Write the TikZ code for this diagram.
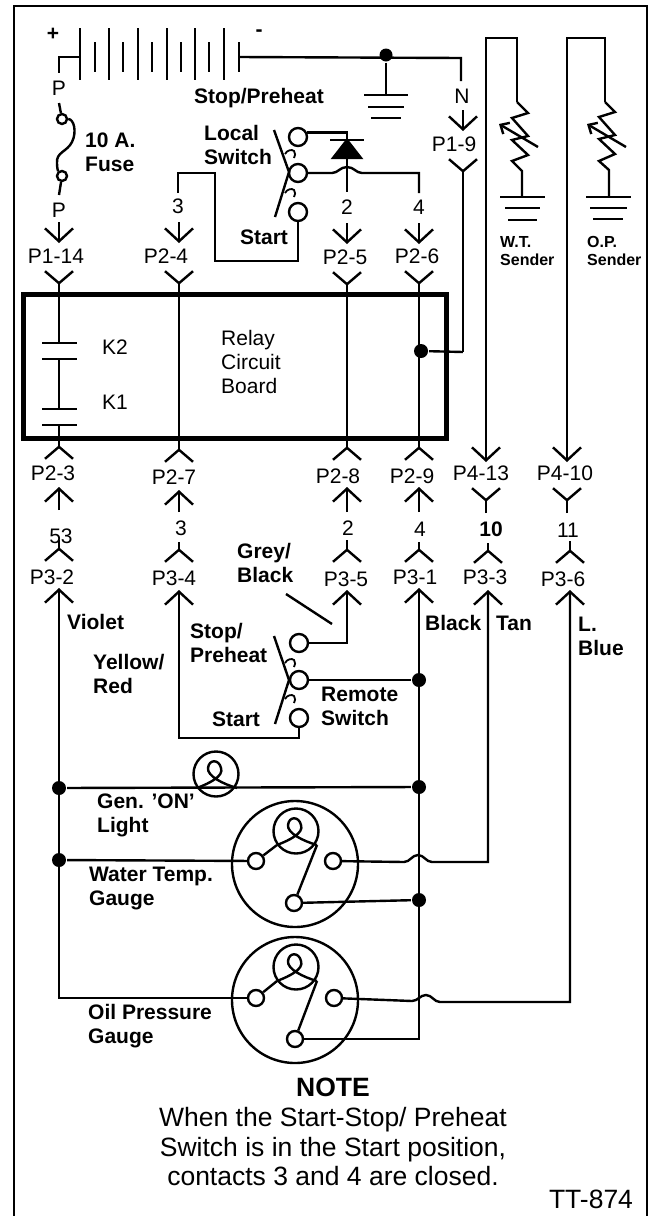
\documentclass[tikz,border=0pt]{standalone}
\usepackage{fontspec}
\setmainfont{Liberation Sans}
\usetikzlibrary{arrows.meta}
\tikzset{
    reg/.style={font=\fontsize{21}{24}\selectfont, inner sep=0pt},
    bld/.style={font=\bfseries\fontsize{21}{24}\selectfont, inner sep=0pt, align=left},
    sml/.style={font=\bfseries\fontsize{16}{18}\selectfont, inner sep=0pt, align=left},
    term/.style={circle, draw, fill=white, minimum size=18pt, inner sep=0pt},
    gterm/.style={circle, draw, fill=white, minimum size=16pt, inner sep=0pt},
    fterm/.style={circle, draw, fill=white, minimum size=10pt, inner sep=0pt},
    joint/.style={circle, fill, minimum size=14pt, inner sep=0pt},
    gauge/.style={circle, draw, minimum size=126pt, inner sep=0pt},
    lamp/.style={circle, draw, minimum size=45pt, inner sep=0pt},
    arrowpin/.style={-{Straight Barb[length=13pt,width=28pt]}},
    forkpin/.style={-{Straight Barb[reversed,length=12pt,width=28pt]}},
    sendarrow/.style={-{Straight Barb[length=7pt,width=13pt]}},
    swhook/.style={line width=1.8pt}
}
\begin{document}
\begin{tikzpicture}[x=1pt, y=-1pt, line width=2.4pt]
    \useasboundingbox (0,0) rectangle (649,1216);
    % frame
    \path [draw, line width=2.6pt] (14,1216) -- (14,6) -- (647,6) -- (647,1216);

    % battery
    \node [bld] (plus) at (53,34) {+};
    \node [bld] (minus) at (259,33) {-};
    \path [draw] (80,28) -- (80,80);
    \path [draw] (95,42) -- (95,72);
    \path [draw] (109,28) -- (109,80);
    \path [draw] (123,42) -- (123,72);
    \path [draw] (138,28) -- (138,80);
    \path [draw] (152,42) -- (152,72);
    \path [draw] (167,28) -- (167,80);
    \path [draw] (181,42) -- (181,72);
    \path [draw] (195,28) -- (195,80);
    \path [draw] (209,42) -- (209,72);
    \path [draw] (224,28) -- (224,80);
    \path [draw] (239,42) -- (239,72);
    \coordinate (batl) at (80,57);
    \coordinate (batr) at (239,57);

    % fuse side
    \coordinate (pa) at (59,73);
    \coordinate (pb) at (59,103);
    \coordinate (pc) at (59,195);
    \node [reg] (lpa) at (59,88) {P};
    \node [fterm] (fusea) at (62,119) {};
    \node [fterm] (fuseb) at (62,176) {};
    \node [reg] (lpb) at (59,210) {P};
    \node [bld, anchor=west] (lfuse) at (84,152) {10 A.\\Fuse};
    \path [draw] (batl) -| (pa);
    \path [draw] (pb) edge (fusea);
    \path [draw] (fuseb) edge (pc);
    \path [draw] (fusea) .. controls (74,119) and (77,132) .. (72,142) .. controls (67,152) and (56,152) .. (57,163) .. controls (57,168) and (58,171) .. (fuseb);

    % ground and N lead
    \node [joint, minimum size=13pt] (jbat) at (386,55) {};
    \coordinate (gnda) at (386,95);
    \coordinate (nc) at (461,58);
    \coordinate (na) at (461,81);
    \path [draw] (batr) -- (nc) -- (na);
    \path [draw] (jbat) edge (gnda);
    \path [draw] (364,95) -- (408,95);
    \path [draw] (368,107) -- (404,107);
    \path [draw] (371,118) -- (401,118);
    \node [bld] (lstop) at (259,98) {Stop/Preheat};
    \node [reg] (ln) at (462,96) {N};
    \node [reg] (lp19) at (454,144) {P1-9};
    \coordinate (n1) at (463,110);
    \coordinate (n2) at (463,131);
    \coordinate (n3) at (463,158);
    \coordinate (n4) at (463,352);
    \path [draw, arrowpin] (n1) -- (n2);
    \path [draw, forkpin] (n4) -- (n3);
    \node [joint] (jboard) at (421,351) {};
    \path [draw] (jboard) edge (n4);

    % local switch
    \node [bld, anchor=west] (llocal) at (203,145) {Local\\Switch};
    \node [bld] (lstart) at (264,237) {Start};
    \node [term] (sla) at (298,137) {};
    \node [term] (slb) at (298,173) {};
    \node [term] (slc) at (298,212) {};
    \path [draw] (274,130) -- (289,172) -- (275,217);
    \path [draw, swhook] (285,154) .. controls (287,150) and (292,149) .. (294,151) .. controls (296,153) and (295,156) .. (294,158);
    \path [draw, swhook] (285,193) .. controls (287,189) and (292,188) .. (294,190) .. controls (296,192) and (295,195) .. (294,197);
    \coordinate (dtop) at (347,140);
    \coordinate (dmid) at (347,158);
    \coordinate (d2) at (347,192);
    \path [draw] (sla.25) -| (dtop);
    \path [draw] (330,140) -- (364,140);
    \path [draw, fill] (dtop) -- (333,158) -- (361,158) -- cycle;
    \path [draw] (dmid) edge (d2);
    \coordinate (w4a) at (419,193);
    \path [draw] (slb) -- (332,173) .. controls (338,173) and (340,167) .. (347,167) .. controls (354,167) and (356,173) .. (362,173) -| (w4a);
    \coordinate (w3a) at (178,193);
    \coordinate (w3b) at (215,173);
    \coordinate (w3c) at (215,261);
    \path [draw] (w3a) |- (w3b) -- (w3c) -| (slc);

    % top pins
    \node [reg] (l3a) at (178,206) {3};
    \node [reg] (l2a) at (347,207) {2};
    \node [reg] (l4a) at (419,207) {4};
    \node [reg] (lp114) at (56,256) {P1-14};
    \node [reg] (lp24) at (166,256) {P2-4};
    \node [reg] (lp25) at (345,257) {P2-5};
    \node [reg] (lp26) at (417,256) {P2-6};
    \coordinate (a1) at (59,222);
    \coordinate (a2) at (59,243);
    \coordinate (b1) at (179,222);
    \coordinate (b2) at (179,243);
    \coordinate (c1) at (347,223);
    \coordinate (c2) at (347,244);
    \coordinate (d1) at (419,223);
    \coordinate (d2b) at (419,244);
    \path [draw, arrowpin] (a1) -- (a2);
    \path [draw, arrowpin] (b1) -- (b2);
    \path [draw, arrowpin] (c1) -- (c2);
    \path [draw, arrowpin] (d1) -- (d2b);

    % relay board
    \node [draw, line width=5pt, minimum width=423pt, minimum height=144pt, inner sep=0pt] (board) at (234.5,366) {};
    \node [reg, anchor=west] (lk2) at (101,347) {K2};
    \node [reg, anchor=west] (lk1) at (101,402) {K1};
    \node [reg, anchor=west, align=left] (lrelay) at (220,362) {Relay\\Circuit\\Board};
    \coordinate (k2a) at (59,343);
    \coordinate (k2b) at (59,359);
    \coordinate (k1a) at (59,409);
    \coordinate (k1b) at (59,425);
    \path [draw] (42,343) -- (77,343);
    \path [draw] (42,359) -- (77,359);
    \path [draw] (42,409) -- (77,409);
    \path [draw] (42,425) -- (77,425);
    \path [draw] (k2b) edge (k1a);
    \coordinate (a3) at (59,270);
    \coordinate (a4) at (59,460);
    \coordinate (b3) at (179,270);
    \coordinate (bm) at (179,366);
    \coordinate (b4) at (179,463);
    \coordinate (c3) at (347,271);
    \coordinate (cm) at (347,366);
    \coordinate (c4) at (347,461);
    \coordinate (d3) at (419,270);
    \coordinate (dm) at (419,366);
    \coordinate (d4) at (419,461);
    \path [draw, forkpin] (k2a) -- (a3);
    \path [draw, forkpin] (k1b) -- (a4);
    \path [draw, forkpin] (bm) -- (b3);
    \path [draw, forkpin] (bm) -- (b4);
    \path [draw, forkpin] (cm) -- (c3);
    \path [draw, forkpin] (cm) -- (c4);
    \path [draw, forkpin] (dm) -- (d3);
    \path [draw, forkpin] (dm) -- (d4);

    % middle pins
    \node [reg] (lp23) at (53,473) {P2-3};
    \node [reg] (lp27) at (174,477) {P2-7};
    \node [reg] (lp28) at (338,476) {P2-8};
    \node [reg] (lp29) at (412,476) {P2-9};
    \node [reg] (lp413) at (481,473) {P4-13};
    \node [reg] (lp410) at (565,473) {P4-10};
    \coordinate (a5) at (59,510);
    \coordinate (a6) at (59,487);
    \coordinate (b5) at (179,512);
    \coordinate (b6) at (179,490);
    \coordinate (c5) at (347,512);
    \coordinate (c6) at (347,487);
    \coordinate (d5) at (419,512);
    \coordinate (d6) at (419,487);
    \coordinate (e5) at (486,513);
    \coordinate (e6) at (486,487);
    \coordinate (f5) at (567,513);
    \coordinate (f6) at (567,487);
    \path [draw, arrowpin] (a5) -- (a6);
    \path [draw, arrowpin] (b5) -- (b6);
    \path [draw, arrowpin] (c5) -- (c6);
    \path [draw, arrowpin] (d5) -- (d6);
    \path [draw, forkpin] (e5) -- (e6);
    \path [draw, forkpin] (f5) -- (f6);
    \node [reg] (l53) at (61,536) {53};
    \node [reg] (l3b) at (181,528) {3};
    \node [reg] (l2b) at (348,528) {2};
    \node [reg] (l4b) at (420,529) {4};
    \node [bld] (l10) at (491,529) {10};
    \node [reg] (l11) at (568,530) {11};
    \coordinate (a7) at (59,540);
    \coordinate (a8) at (59,562);
    \coordinate (b7) at (179,542);
    \coordinate (b8) at (179,563);
    \coordinate (c7) at (347,540);
    \coordinate (c8) at (347,563);
    \coordinate (d7) at (419,542);
    \coordinate (d8) at (419,563);
    \coordinate (e7) at (488,543);
    \coordinate (e8) at (488,564);
    \coordinate (f7) at (570,541);
    \coordinate (f8) at (570,564);
    \path [draw, forkpin] (a7) -- (a8);
    \path [draw, forkpin] (b7) -- (b8);
    \path [draw, forkpin] (c7) -- (c8);
    \path [draw, forkpin] (d7) -- (d8);
    \path [draw, forkpin] (e7) -- (e8);
    \path [draw, forkpin] (f7) -- (f8);
    \node [reg] (lp32) at (52,577) {P3-2};
    \node [reg] (lp34) at (174,578) {P3-4};
    \node [reg] (lp35) at (346,579) {P3-5};
    \node [reg] (lp31) at (415,577) {P3-1};
    \node [reg] (lp33) at (485,577) {P3-3};
    \node [reg] (lp36) at (563,579) {P3-6};

    % senders
    \coordinate (wta) at (486,462);
    \coordinate (wtb) at (517,38);
    \coordinate (wtc) at (517,102);
    \coordinate (wtd) at (522,197);
    \coordinate (wte) at (538,147);
    \coordinate (wtf) at (499,124);
    \path [draw, arrowpin] (wtc) -- (wtb) -| (wta);
    \path [draw] (wtc) -- (528,113) -- (512,118) -- (528,136) -- (512,140) -- (528,155) -- (512,161) -- (522,171) -- (wtd);
    \path [draw, sendarrow] (wte) -- (wtf);
    \path [draw] (500,197) -- (545,197);
    \path [draw] (505,208) -- (540,208);
    \path [draw] (508,220) -- (537,220);
    \node [sml, anchor=west] (lwt) at (499,251) {W.T.\\Sender};
    \coordinate (opa) at (567,462);
    \coordinate (opb) at (605,38);
    \coordinate (opc) at (605,102);
    \coordinate (opd) at (609,196);
    \coordinate (ope) at (626,147);
    \coordinate (opf) at (587,124);
    \path [draw, arrowpin] (opc) -- (opb) -| (opa);
    \path [draw] (opc) -- (615,112) -- (599,117) -- (615,135) -- (599,139) -- (615,154) -- (599,161) -- (609,170) -- (opd);
    \path [draw, sendarrow] (ope) -- (opf);
    \path [draw] (586,197) -- (631,197);
    \path [draw] (590,208) -- (627,208);
    \path [draw] (593,219) -- (623,219);
    \node [sml, anchor=west] (lop) at (586,251) {O.P.\\Sender};

    % remote switch
    \node [bld, anchor=west] (lgrey) at (236,563) {Grey/\\Black};
    \path [draw] (286,594) -- (332,624);
    \node [bld, anchor=west] (lstopb) at (189,643) {Stop/\\Preheat};
    \node [bld, anchor=west] (lyel) at (92,674) {Yellow/\\Red};
    \node [bld] (lstartb) at (236,719) {Start};
    \node [bld, anchor=west] (lrem) at (320,706) {Remote\\Switch};
    \node [bld, anchor=west] (lvio) at (66,622) {Violet};
    \node [bld, anchor=west] (lblk) at (424,623) {Black};
    \node [bld, anchor=west] (ltan) at (495,623) {Tan};
    \node [bld, anchor=west] (lblu) at (577,636) {L.\\Blue};
    \node [term] (sra) at (299,643) {};
    \node [term] (srb) at (299,680) {};
    \node [term] (src) at (299,718) {};
    \path [draw] (274,636) -- (289,680) -- (275,724);
    \path [draw, swhook] (285,663) .. controls (287,659) and (292,658) .. (294,660) .. controls (296,662) and (295,665) .. (294,667);
    \path [draw, swhook] (285,699) .. controls (287,695) and (292,694) .. (294,696) .. controls (296,698) and (295,701) .. (294,703);
    \node [joint] (jrem) at (419,680) {};
    \coordinate (t35) at (347,590);
    \coordinate (t34) at (179,590);
    \coordinate (srd) at (299,738);
    \path [draw, arrowpin] (sra.east) -| (t35);
    \path [draw] (srb) edge (jrem);
    \path [draw, arrowpin] (src.south) -- (srd) -| (t34);

    % light
    \node [joint] (jla) at (59,788) {};
    \node [joint] (jlb) at (419,787) {};
    \node [lamp] (light) at (216,774) {};
    \path [draw] (jla) edge (jlb);
    \path [draw, shift={(216,774)}] (-19,14) .. controls (-6,9) and (8,2) .. (5,-6) .. controls (3,-15) and (-7,-15) .. (-8,-6) .. controls (-9,2) and (7,10) .. (21,14);
    \node [bld, anchor=west] (llight) at (96,815) {Gen. ’ON’\\Light};

    % water temp gauge
    \node [gauge] (wg) at (295,864) {};
    \node [lamp] (wl) at (296,831) {};
    \node [gterm] (wga) at (256,861) {};
    \node [gterm] (wgb) at (333,861) {};
    \node [gterm] (wgc) at (294,903) {};
    \node [joint] (jwa) at (59,860) {};
    \node [joint] (jwb) at (419,900) {};
    \path [draw, shift={(296,831)}] (-19,14) .. controls (-6,9) and (8,2) .. (5,-6) .. controls (3,-15) and (-7,-15) .. (-8,-6) .. controls (-9,2) and (7,10) .. (21,14);
    \coordinate (wla) at (277,845);
    \coordinate (wlb) at (317,845);
    \coordinate (t33) at (488,590);
    \path [draw] (jwa) edge (wga);
    \path [draw] (wga) edge (wla);
    \path [draw] (wlb) edge (wgc);
    \path [draw] (wgc) edge (jwb);
    \path [draw, arrowpin] (wgb) -- (404,862) .. controls (410,862) and (412,855) .. (418,855) .. controls (424,855) and (426,862) .. (432,862) -| (t33);
    \node [bld, anchor=west] (lwg) at (88,888) {Water Temp.\\Gauge};

    % oil pressure gauge
    \node [gauge] (og) at (295,1000) {};
    \node [lamp] (ol) at (296,967) {};
    \node [gterm] (oga) at (256,998) {};
    \node [gterm] (ogb) at (334,998) {};
    \node [gterm] (ogc) at (295,1039) {};
    \path [draw, shift={(296,967)}] (-19,14) .. controls (-6,9) and (8,2) .. (5,-6) .. controls (3,-15) and (-7,-15) .. (-8,-6) .. controls (-9,2) and (7,10) .. (21,14);
    \coordinate (ola) at (277,981);
    \coordinate (olb) at (317,981);
    \coordinate (vcol) at (59,588);
    \coordinate (bcol) at (419,588);
    \coordinate (t36) at (570,590);
    \path [draw, arrowpin] (oga) -| (vcol);
    \path [draw] (oga) edge (ola);
    \path [draw] (olb) edge (ogc);
    \path [draw, arrowpin] (ogc) -| (bcol);
    \path [draw, arrowpin] (ogb) -- (412,1001) .. controls (418,1001) and (420,995) .. (426,995) .. controls (432,995) and (434,1002) .. (440,1002) -| (t36);
    \node [bld, anchor=west] (log) at (87,1026) {Oil Pressure\\Gauge};

    % note
    \node [font=\bfseries\fontsize{26.5}{26.5}\selectfont, inner sep=0pt] (lnote) at (333,1087) {NOTE};
    \node [font=\fontsize{26.5}{29.5}\selectfont, inner sep=0pt, align=center] (ltext) at (333,1147) {When the Start-Stop/ Preheat\\Switch is in the Start position,\\contacts 3 and 4 are closed.};
    \node [font=\fontsize{26.5}{26.5}\selectfont, inner sep=0pt] (ltt) at (591,1199) {TT-874};
\end{tikzpicture}
\end{document}
